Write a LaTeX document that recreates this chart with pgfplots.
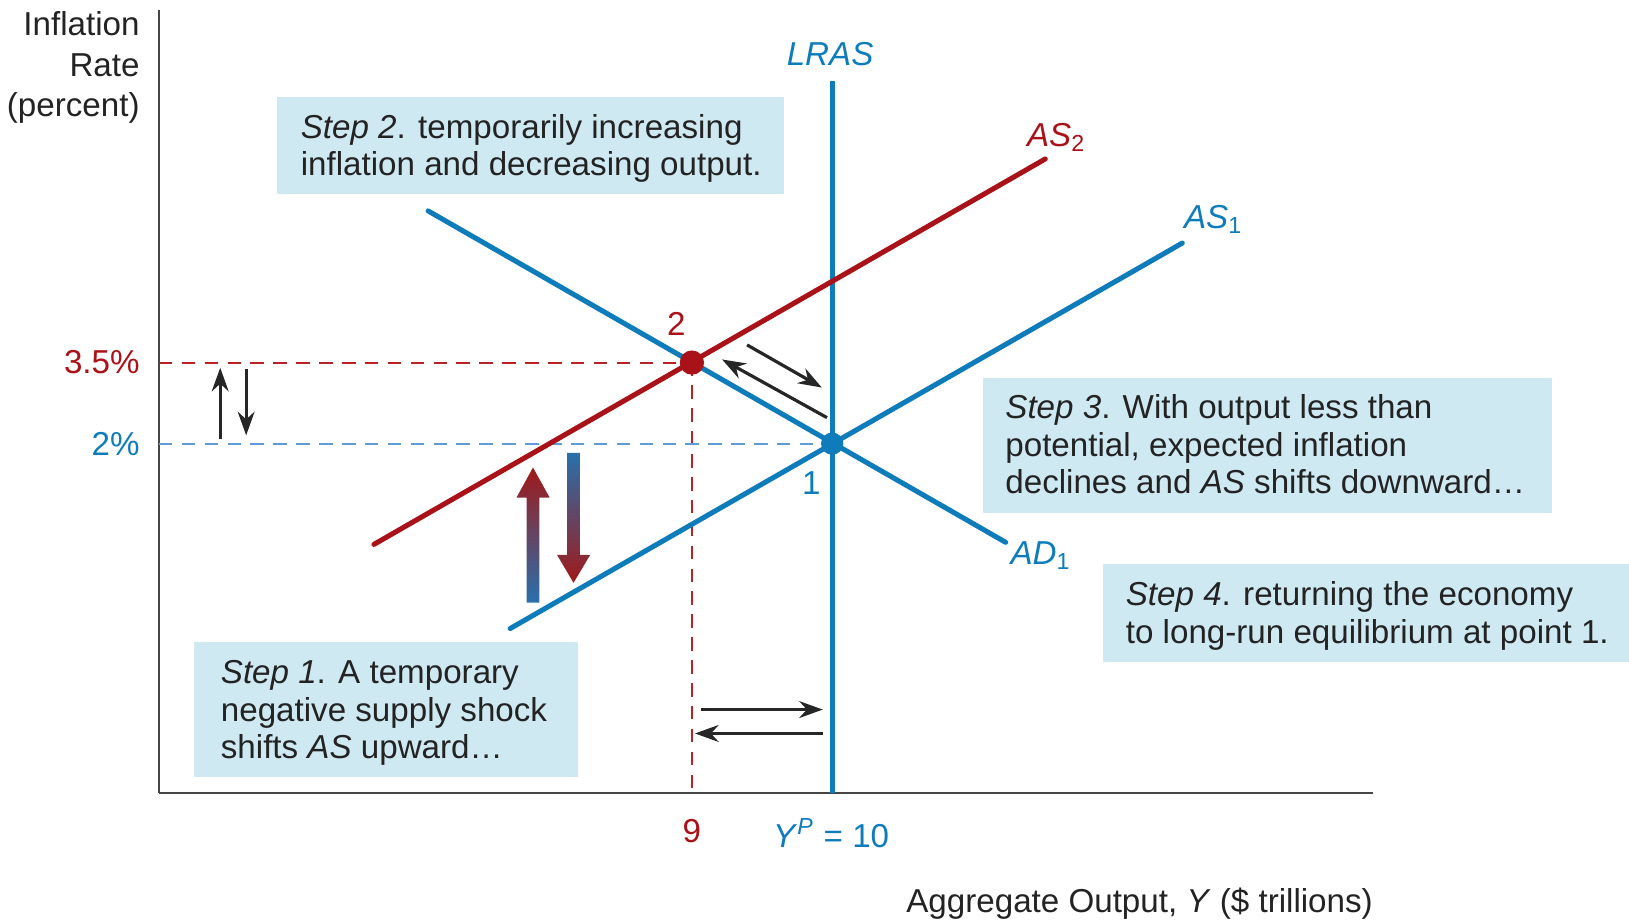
\documentclass[border=0pt]{standalone}
\usepackage{pgfplots}
\pgfplotsset{compat=1.18}
\usepackage{fontspec}
\setmainfont{Liberation Sans}
\usetikzlibrary{arrows.meta}
\definecolor{myblue}{RGB}{14,124,186}
\definecolor{myred}{RGB}{168,18,24}
\definecolor{dashblue}{RGB}{95,155,212}
\definecolor{dashred}{RGB}{185,35,40}
\definecolor{boxcol}{RGB}{206,233,241}
\definecolor{txt}{RGB}{35,35,35}
\definecolor{axgray}{RGB}{70,70,70}
\definecolor{arrblue}{RGB}{40,112,172}
\definecolor{arrred}{RGB}{160,25,25}
\begin{document}
\begin{tikzpicture}[font=\fontsize{9.85}{12}\selectfont]
\begin{axis}[
  scale only axis, width=360.8pt, height=232.4pt,
  xmin=5.2, xmax=13.859, ymin=-4.462, ymax=10.019,
  axis x line=bottom, axis y line=left,
  axis line style={-, draw=axgray, line width=0.6pt},
  xtick=\empty, ytick=\empty, clip=false,
]
% bounding region of the whole figure
\path (4.067,10.212) rectangle (15.681,-6.885);

% boxes
\fill[boxcol] (6.044,6.615) rectangle (9.659,8.423);
\fill[boxcol] (11.074,0.712) rectangle (15.133,3.212);
\fill[boxcol] (11.933,-2.038) rectangle (15.681,-0.231);
\fill[boxcol] (5.452,-4.173) rectangle (8.185,-1.673);

% box texts
\begin{scope}[every node/.style={anchor=base west, inner sep=0pt, text=txt}]
\node at (6.207,7.654) {\textit{Step 2}. temporarily increasing};
\node at (6.207,6.970) {inflation and decreasing output.};
\node at (11.230,2.462) {\textit{Step 3}. With output less than};
\node at (11.230,1.769) {potential, expected inflation};
\node at (11.230,1.077) {declines and \textit{AS} shifts downward…};
\node at (12.089,-1.0) {\textit{Step 4}. returning the economy};
\node at (12.089,-1.692) {to long-run equilibrium at point 1.};
\node at (5.637,-2.442) {\textit{Step 1}. A temporary};
\node at (5.637,-3.135) {negative supply shock};
\node at (5.637,-3.827) {shifts \textit{AS} upward…};
\end{scope}

% dashed guide lines
\addplot[dashred, line width=0.6pt, dash pattern=on 4pt off 2.8pt] coordinates {(5.2,3.5) (9,3.5)};
\addplot[dashred, line width=0.6pt, dash pattern=on 4pt off 2.8pt] coordinates {(9,3.5) (9,-4.462)};
\addplot[dashblue, line width=0.6pt, dash pattern=on 4pt off 2.8pt] coordinates {(5.2,2) (10,2)};

% curves
\addplot[myblue, line width=1.5pt] coordinates {(10,-4.462) (10,8.712)};
\addplot[myblue, line width=1.5pt, line cap=round] coordinates {(7.119,6.308) (11.237,0.173)};
\addplot[myblue, line width=1.5pt, line cap=round] coordinates {(7.704,-1.423) (12.496,5.712)};
\addplot[myred, line width=1.5pt, line cap=round] coordinates {(6.733,0.135) (11.519,7.269)};

% equilibrium points
\addplot[only marks, mark=*, mark size=3.4pt, myred, mark options={fill=myred}] coordinates {(9,3.5)};
\addplot[only marks, mark=*, mark size=3.1pt, myblue, mark options={fill=myblue}] coordinates {(10,2)};

% gradient arrows
\shade[top color=arrred, bottom color=arrblue] (7.821,-0.942) -- (7.821,1.0) -- (7.749,1.0) -- (7.867,1.558) -- (7.986,1.0) -- (7.913,1.0) -- (7.913,-0.942) -- cycle;
\shade[top color=arrblue, bottom color=arrred] (8.110,1.827) -- (8.110,-0.058) -- (8.038,-0.058) -- (8.156,-0.577) -- (8.275,-0.058) -- (8.202,-0.058) -- (8.202,1.827) -- cycle;

% black arrows
\begin{scope}[line width=0.95pt, -{Stealth[length=7pt,width=5pt]}, black!85]
\draw (9.393,3.827) -- (9.926,3.038);
\draw (9.963,2.481) -- (9.215,3.558);
\draw (9.067,-2.923) -- (9.933,-2.923);
\draw (9.933,-3.365) -- (9.022,-3.365);
\draw (5.637,2.077) -- (5.637,3.404);
\draw (5.822,3.385) -- (5.822,2.154);
\end{scope}

% curve labels
\node[myred] at (8.889,4.212) {2};
\node[myblue] at (9.852,1.269) {1};
\node[myblue] at (9.985,9.212) {\textit{LRAS}};
\node[myred, anchor=base west, inner sep=0pt] at (11.385,7.5) {\textit{AS}\textsubscript{2}};
\node[myblue, anchor=base west, inner sep=0pt] at (12.504,5.981) {\textit{AS}\textsubscript{1}};
\node[myblue, anchor=base west, inner sep=0pt] at (11.267,-0.231) {\textit{AD}\textsubscript{1}};

% tick labels
\node[myred, anchor=east, inner sep=0pt] at (5.067,3.5) {3.5\%};
\node[myblue, anchor=east, inner sep=0pt] at (5.067,2) {2\%};
\node[myred] at (9,-5.173) {9};
\node[myblue] at (9.993,-5.212) {\textit{Y}\textsuperscript{\textit{P}} = 10};

% axis labels
\node[txt, anchor=east, inner sep=0pt] at (5.067,9.769) {Inflation};
\node[txt, anchor=east, inner sep=0pt] at (5.067,9.0) {Rate};
\node[txt, anchor=east, inner sep=0pt] at (5.067,8.212) {(percent)};
\node[txt, anchor=east, inner sep=0pt] at (13.859,-6.519) {Aggregate Output, \textit{Y} (\$ trillions)};
\end{axis}
\end{tikzpicture}
\end{document}
